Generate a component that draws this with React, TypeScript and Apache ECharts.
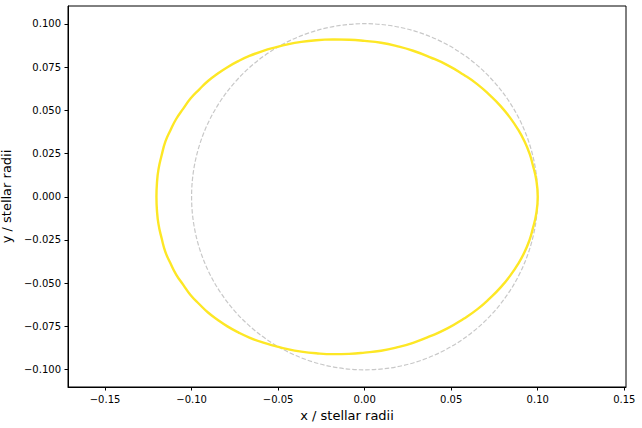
import React, { useEffect, useRef } from "react";
import * as echarts from "echarts";

// Outline curve (x, y in stellar radii).
// Starts at the top and runs counter-clockwise: upper-left, lower-left, lower-right, upper-right.
const curveX = [
  -0.018, -0.028, -0.0375, -0.0445, -0.051, -0.059, -0.0666, -0.073, -0.0793, -0.085,
  -0.0905, -0.0955, -0.1005, -0.1048, -0.1089, -0.1122, -0.1151, -0.1173, -0.1191, -0.12,
  -0.1203,
  -0.12, -0.1191, -0.1173, -0.1151, -0.1122, -0.1089, -0.1048, -0.1005, -0.0955, -0.0905,
  -0.085, -0.0793, -0.073, -0.0666, -0.059, -0.051, -0.0445, -0.0375, -0.028, -0.018,
  -0.009, 0.0, 0.0095, 0.0186, 0.028, 0.0379, 0.0478, 0.0572, 0.065, 0.0726,
  0.0787, 0.0842, 0.0887, 0.0924, 0.0952, 0.097, 0.0992,
  0.1,
  0.0992, 0.097, 0.0952, 0.0924, 0.0887, 0.0842, 0.0787, 0.0726, 0.065, 0.0572,
  0.0478, 0.0379, 0.028, 0.0186, 0.0095, 0.0, -0.009, -0.018,
];
const curveY = [
  0.0911, 0.0906, 0.0895, 0.0882, 0.0866, 0.0843, 0.0815, 0.0785, 0.075, 0.0712,
  0.067, 0.0622, 0.057, 0.051, 0.045, 0.0385, 0.032, 0.024, 0.016, 0.008,
  0.0,
  -0.008, -0.016, -0.024, -0.032, -0.0385, -0.045, -0.051, -0.057, -0.0622, -0.067,
  -0.0712, -0.075, -0.0785, -0.0815, -0.0843, -0.0866, -0.0882, -0.0895, -0.0906, -0.0911,
  -0.0909, -0.0902, -0.0891, -0.0872, -0.0845, -0.0807, -0.0762, -0.0706, -0.0652, -0.0585,
  -0.0523, -0.0455, -0.0388, -0.032, -0.0252, -0.019, -0.0095,
  0.0,
  0.0095, 0.019, 0.0252, 0.032, 0.0388, 0.0455, 0.0523, 0.0585, 0.0652, 0.0706,
  0.0762, 0.0807, 0.0845, 0.0872, 0.0891, 0.0902, 0.0909, 0.0911,
];

// Reference circle: centre x, centre y, radius
const circle = [0, 0, 0.1];

const xTicks = [-0.15, -0.1, -0.05, 0, 0.05, 0.1, 0.15];
const yTicks = [-0.1, -0.075, -0.05, -0.025, 0, 0.025, 0.05, 0.075, 0.1];

const xRange = [-0.1714, 0.151];
const yRange = [-0.1101, 0.1104];

const FONT = "DejaVu Sans";

function fmt(v: number, d: number) {
  const s = Math.abs(v) < 1e-12 ? (0).toFixed(d) : v.toFixed(d);
  return s.replace("-", "\u2212");
}

export default function App() {
  const ref = useRef<HTMLDivElement>(null);
  useEffect(() => {
    document.body.style.margin = "0";
    const chart = echarts.init(ref.current!, null, { renderer: "svg" });
    const curve = curveX.map((x, i) => [x, curveY[i]]);
    chart.setOption({
      animation: false,
      backgroundColor: "#ffffff",
      grid: {
        left: 68,
        top: 6,
        right: 16,
        bottom: 41,
        containLabel: false,
        outerBoundsMode: "none",
        show: true,
        borderColor: "#000000",
        borderWidth: 1,
        backgroundColor: "transparent",
      },
      xAxis: {
        type: "value",
        min: xRange[0],
        max: xRange[1],
        name: "x / stellar radii",
        nameLocation: "middle",
        nameGap: 18,
        nameTextStyle: { fontFamily: FONT, fontSize: 13, color: "#000" },
        axisLine: { show: true, onZero: false, lineStyle: { color: "#000", width: 1 } },
        axisTick: {
          show: true,
          inside: false,
          length: 3.5,
          customValues: xTicks,
          lineStyle: { color: "#000", width: 1 },
        },
        axisLabel: {
          show: true,
          margin: 7,
          customValues: xTicks,
          formatter: (v: number) => fmt(v, 2),
          fontFamily: FONT,
          fontSize: 10,
          color: "#000",
        },
        splitLine: { show: false },
      },
      yAxis: {
        type: "value",
        min: yRange[0],
        max: yRange[1],
        name: "y / stellar radii",
        nameLocation: "middle",
        nameGap: 44,
        nameRotate: 90,
        nameTextStyle: { fontFamily: FONT, fontSize: 13, color: "#000" },
        axisLine: { show: true, onZero: false, lineStyle: { color: "#000", width: 1 } },
        axisTick: {
          show: true,
          inside: false,
          length: 3.5,
          customValues: yTicks,
          lineStyle: { color: "#000", width: 1 },
        },
        axisLabel: {
          show: true,
          margin: 7,
          customValues: yTicks,
          formatter: (v: number) => fmt(v, 3),
          fontFamily: FONT,
          fontSize: 10,
          color: "#000",
        },
        splitLine: { show: false },
      },
      series: [
        {
          type: "custom",
          z: 1,
          data: [circle],
          encode: { x: 0, y: 1 },
          renderItem: (params: any, api: any) => {
            const c = api.coord([api.value(0), api.value(1)]);
            const r = api.size([api.value(2), 0])[0];
            return {
              type: "circle",
              shape: { cx: c[0], cy: c[1], r },
              style: {
                fill: "none",
                stroke: "#c8c8c8",
                lineWidth: 1.2,
                lineDash: [4.5, 2],
              },
            };
          },
        },
        {
          type: "line",
          z: 3,
          data: curve,
          smooth: 0.5,
          showSymbol: false,
          symbol: "none",
          lineStyle: { color: "#fde725", width: 2.4 },
        },
      ],
    });
    return () => chart.dispose();
  }, []);
  return <div ref={ref} style={{ width: 642, height: 428 }} />;
}
